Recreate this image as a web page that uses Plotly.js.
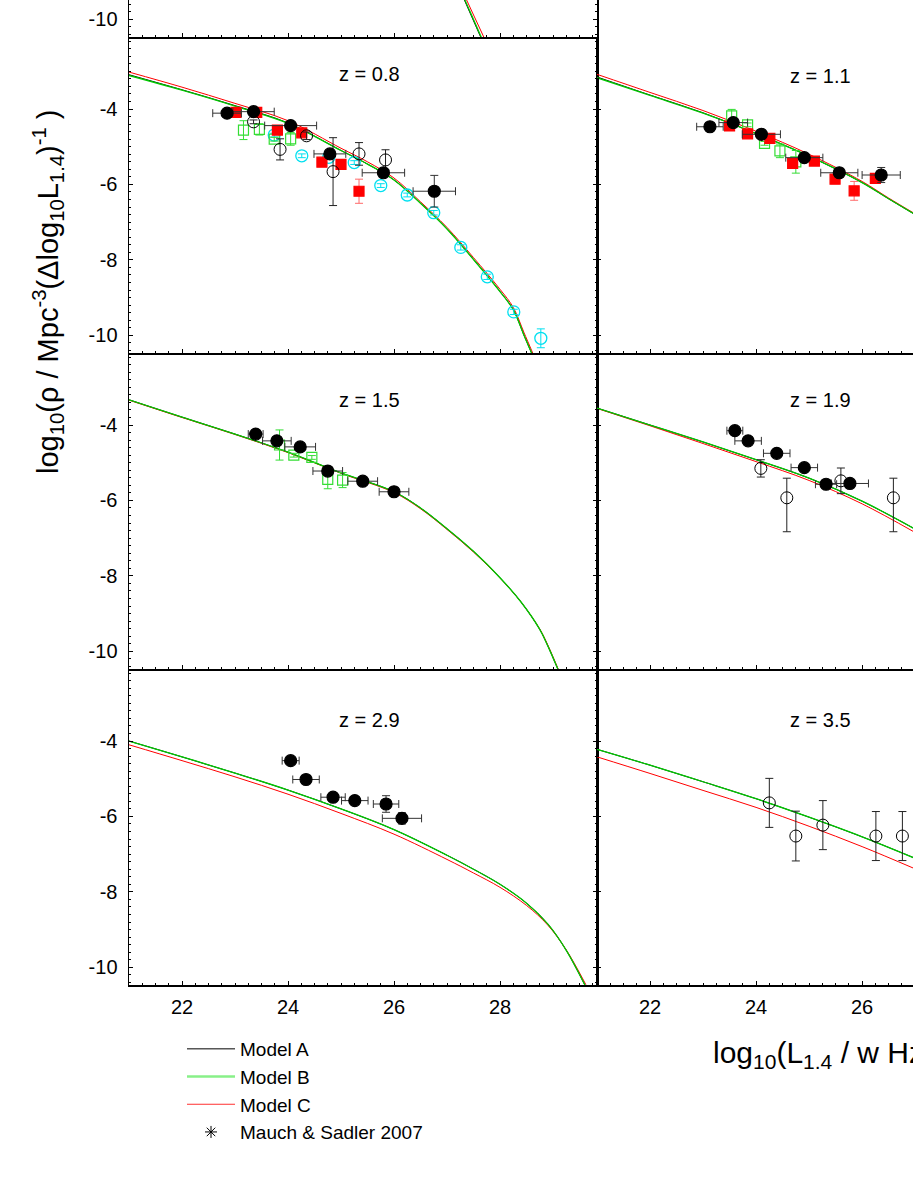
<!DOCTYPE html>
<html><head><meta charset="utf-8">
<script src="https://cdn.plot.ly/plotly-3.0.1.min.js"></script>
<style>html,body{margin:0;padding:0;background:#fff;overflow:hidden}#chart{width:913px;height:1182px}</style>
</head><body><div id="chart"></div>
<script>
// ---------- tick labels / panel labels ----------
const xTickVals = [22, 24, 26, 28];
const xTickText = ['22', '24', '26', '28'];
const yTickVals = [-4, -6, -8, -10];
const yTickText = ['-4', '-6', '-8', '-10'];
const topTickVals = [-10];
const topTickText = ['-10'];
const panelLabels = ['z = 0.8', 'z = 1.1', 'z = 1.5', 'z = 1.9', 'z = 2.9', 'z = 3.5'];
const legendNames = ['Model A', 'Model B', 'Model C', 'Mauch & Sadler 2007'];

// ---------- model curves ----------
// top (cropped) panel: only the bottom end of the curves is visible
const topLogRho = [-9.40, -10.55];
const topA = [27.30, 27.66];
const topB = [27.31, 27.67];
const topC = [27.34, 27.72];

// z = 0.8
const lumZ08 = [21, 22, 23, 24, 25, 25.5, 26, 26.5, 27, 27.5, 28, 28.25, 28.45, 28.62];
const modelA_z08 = [-3.09, -3.49, -3.91, -4.37, -5.10, -5.46, -5.88, -6.50, -7.18, -7.99, -8.84, -9.32, -9.99, -10.55];
const modelB_z08 = [-3.11, -3.50, -3.92, -4.38, -5.10, -5.46, -5.88, -6.50, -7.18, -7.99, -8.84, -9.32, -9.99, -10.55];
const modelC_z08 = [-3.02, -3.42, -3.85, -4.31, -5.04, -5.40, -5.83, -6.46, -7.14, -7.94, -8.78, -9.26, -9.92, -10.48];
// z = 1.1
const lumZ11 = [21, 22, 23, 24, 25, 26, 26.5, 27];
const modelA_z11 = [-3.15, -3.63, -4.10, -4.65, -5.25, -5.95, -6.38, -6.80];
const modelB_z11 = [-3.17, -3.64, -4.11, -4.65, -5.25, -5.95, -6.38, -6.80];
const modelC_z11 = [-3.08, -3.56, -4.04, -4.59, -5.20, -5.92, -6.36, -6.78];
// z = 1.5
const lumZ15 = [21, 22, 23, 24, 25, 26, 26.5, 27, 27.5, 28, 28.4, 28.75, 28.9, 29.1];
const modelA_z15 = [-3.33, -3.79, -4.24, -4.72, -5.27, -5.77, -6.20, -6.75, -7.35, -8.05, -8.70, -9.42, -9.85, -10.50];
const modelB_z15 = [-3.33, -3.79, -4.24, -4.72, -5.27, -5.77, -6.20, -6.75, -7.35, -8.05, -8.70, -9.42, -9.85, -10.50];
const modelC_z15 = [-3.34, -3.80, -4.25, -4.73, -5.28, -5.79, -6.22, -6.77, -7.37, -8.06, -8.70, -9.41, -9.83, -10.48];
// z = 1.9
const lumZ19 = [21, 22, 23, 24, 25, 26, 27];
const modelA_z19 = [-3.55, -4.00, -4.45, -4.92, -5.41, -6.02, -6.76];
const modelB_z19 = [-3.55, -4.00, -4.45, -4.92, -5.41, -6.02, -6.76];
const modelC_z19 = [-3.56, -4.02, -4.49, -4.97, -5.47, -6.09, -6.85];
// z = 2.9
const lumZ29 = [21, 22, 23, 24, 25, 26, 27, 27.5, 28, 28.5, 28.9, 29.25, 29.62];
const modelA_z29 = [-4.00, -4.42, -4.85, -5.30, -5.80, -6.35, -7.03, -7.40, -7.80, -8.30, -8.85, -9.55, -10.52];
const modelB_z29 = [-4.00, -4.42, -4.85, -5.30, -5.80, -6.35, -7.03, -7.40, -7.80, -8.30, -8.85, -9.55, -10.52];
const modelC_z29 = [-4.10, -4.52, -4.95, -5.41, -5.92, -6.47, -7.14, -7.50, -7.88, -8.36, -8.88, -9.54, -10.46];
// z = 3.5
const lumZ35 = [21, 22, 23, 24, 25, 26, 27];
const modelA_z35 = [-4.22, -4.64, -5.08, -5.53, -6.02, -6.54, -7.11];
const modelB_z35 = [-4.22, -4.64, -5.08, -5.53, -6.02, -6.54, -7.11];
const modelC_z35 = [-4.42, -4.86, -5.31, -5.76, -6.26, -6.80, -7.39];

// ---------- observed luminosity functions ----------
// z = 0.8
const z08FilledX = [22.85, 23.35, 24.05, 24.79, 25.80, 26.76];
const z08FilledY = [-4.11, -4.07, -4.44, -5.19, -5.69, -6.18];
const z08FilledXErr = [0.27, 0.39, 0.49, 0.30, 0.40, 0.40];
const z08FilledYErr = [0.05, 0.05, 0.05, 0.08, 0.10, 0.42];
const z08OpenX = [23.35, 23.85, 24.35, 24.85, 25.34, 25.84];
const z08OpenY = [-4.34, -5.07, -4.71, -5.66, -5.19, -5.35];
const z08OpenYErr = [0.05, 0.28, 0.10, 0.90, 0.30, 0.27];
const z08RedX = [23.02, 23.41, 23.80, 24.26, 24.64, 25.00, 25.34];
const z08RedY = [-4.09, -4.09, -4.56, -4.63, -5.41, -5.47, -6.18];
const z08RedYErr = [0.05, 0.05, 0.05, 0.05, 0.08, 0.08, 0.32];
const z08GreenX = [23.16, 23.46, 23.74, 24.05];
const z08GreenY = [-4.56, -4.54, -4.80, -4.79];
const z08GreenYErr = [0.25, 0.15, 0.05, 0.17];
const z08CyanX = [23.74, 24.26, 24.77, 25.25, 25.75, 26.25, 26.75, 27.26, 27.76, 28.26, 28.77];
const z08CyanY = [-4.69, -5.24, -5.28, -5.42, -6.03, -6.28, -6.75, -7.67, -8.45, -9.38, -10.08];
const z08CyanYErr = [0.05, 0.05, 0.05, 0.05, 0.05, 0.05, 0.06, 0.07, 0.07, 0.07, 0.25];
// z = 1.1
const z11FilledX = [23.13, 23.57, 24.10, 24.91, 25.57, 26.36];
const z11FilledY = [-4.47, -4.36, -4.67, -5.29, -5.69, -5.75];
const z11FilledXErr = [0.25, 0.27, 0.36, 0.35, 0.35, 0.36];
const z11FilledYErr = [0.08, 0.05, 0.05, 0.05, 0.12, 0.20];
const z11RedX = [23.50, 23.84, 24.26, 24.69, 25.10, 25.49, 25.85, 26.25];
const z11RedY = [-4.45, -4.66, -4.78, -5.44, -5.38, -5.86, -6.17, -5.84];
const z11RedYErr = [0.05, 0.05, 0.05, 0.05, 0.05, 0.12, 0.25, 0.10];
const z11GreenX = [23.54, 23.84, 24.16, 24.45, 24.75];
const z11GreenY = [-4.18, -4.42, -4.91, -5.11, -5.40];
const z11GreenYErr = [0.17, 0.05, 0.05, 0.18, 0.30];
// z = 1.5
const z15FilledX = [23.39, 23.79, 24.23, 24.75, 25.41, 26.00];
const z15FilledY = [-4.24, -4.42, -4.58, -5.22, -5.49, -5.77];
const z15FilledXErr = [0.14, 0.27, 0.29, 0.28, 0.28, 0.28];
const z15FilledYErr = [0.05, 0.05, 0.05, 0.05, 0.05, 0.12];
const z15GreenX = [23.84, 24.11, 24.45, 24.75, 25.03];
const z15GreenY = [-4.53, -4.80, -4.86, -5.44, -5.46];
const z15GreenYErr = [0.40, 0.05, 0.05, 0.25, 0.20];
// z = 1.9
const z19FilledX = [23.60, 23.85, 24.39, 24.91, 25.32, 25.77];
const z19FilledY = [-4.15, -4.42, -4.75, -5.13, -5.57, -5.55];
const z19FilledXErr = [0.15, 0.25, 0.25, 0.25, 0.20, 0.35];
const z19OpenX = [24.09, 24.58, 25.60, 26.59];
const z19OpenY = [-5.15, -5.93, -5.48, -5.93];
const z19OpenYErrPlus = [0.23, 0.52, 0.34, 0.52];
const z19OpenYErrMinus = [0.23, 0.90, 0.34, 0.90];
// z = 2.9
const z29FilledX = [24.05, 24.34, 24.85, 25.26, 25.85, 26.15];
const z29FilledY = [-4.52, -5.02, -5.49, -5.58, -5.67, -6.05];
const z29FilledXErr = [0.16, 0.25, 0.23, 0.25, 0.24, 0.37];
const z29FilledYErr = [0.05, 0.05, 0.05, 0.05, 0.22, 0.15];
// z = 3.5
const z35OpenX = [24.25, 24.75, 25.26, 26.26, 26.76];
const z35OpenY = [-5.64, -6.52, -6.23, -6.52, -6.52];
const z35OpenYErr = [0.65, 0.66, 0.65, 0.65, 0.65];

// ---------- styling / geometry ----------
const FONT = 'Liberation Sans, Arial, Helvetica, sans-serif';
const W = 913, H = 1182, ML = 129, MB = 197;
const PW = W - ML, PH = H - MB;
const fx = px => (px - ML) / PW;
const fy = py => (PH - py) / PH;
const colDom = [[0, fx(597)], [fx(597), 1]];
const rowDom = [[fy(37), 1], [fy(353), fy(37)], [fy(669), fy(353)], [0, fy(669)]];
const fullY = [-10.47, -2.09];
const topY = [-10.47, -9.49];
const xLeft = [21, 29.83];
const xRight = [21, 26.96];

const COL_A = '#000000', COL_B = '#00c800', COL_C = '#ff0000';
const COL_CYAN = '#00e0f0', COL_LG = '#33dd33', COL_RED = '#ff0000';

const traces = [];
function curves(ax, xs, a, b, c, yIsX) {
  const mk = (vals, col, w) => {
    const t = {type: 'scatter', mode: 'lines', line: {color: col, width: w, shape: 'spline', smoothing: 1},
      showlegend: false, xaxis: 'x' + ax, yaxis: 'y' + ax, hoverinfo: 'skip'};
    if (yIsX) { t.x = vals; t.y = xs; } else { t.x = xs; t.y = vals; }
    return t;
  };
  traces.push(mk(a, COL_A, 1));
  traces.push(mk(c, COL_C, 1));
  traces.push(mk(b, COL_B, 1.3));
}
function pts(ax, x, y, opt) {
  const t = {type: 'scatter', mode: 'markers', x: x, y: y, showlegend: false, hoverinfo: 'skip',
    xaxis: 'x' + ax, yaxis: 'y' + ax, cliponaxis: true,
    marker: {symbol: opt.symbol, size: opt.size, color: opt.color, line: {color: opt.lineColor || opt.color, width: opt.lw || 1.2}}};
  if (opt.ey || opt.eyp) {
    t.error_y = {type: 'data', symmetric: !opt.eyp, array: opt.ey || opt.eyp, color: opt.ecol, thickness: 1, width: 4};
    if (opt.eyp) t.error_y.arrayminus = opt.eym;
  }
  if (opt.ex) t.error_x = {type: 'data', array: opt.ex, color: opt.ecol, thickness: 1, width: 4};
  traces.push(t);
}
const filled = (ex, ey) => ({symbol: 'circle', size: 12, color: '#000', ecol: '#333', ex: ex, ey: ey});
const openB = (ey) => ({symbol: 'circle-open', size: 12, color: '#000', lw: 1, ecol: '#222', ey: ey});

// top cropped panel (axis 1 left, 2 right)
curves(1, topLogRho, topA, topB, topC, true);

// z = 0.8 (axis 3)
curves(3, lumZ08, modelA_z08, modelB_z08, modelC_z08);
pts(3, z08CyanX, z08CyanY, {symbol: 'circle-open', size: 12, color: COL_CYAN, lw: 1.3, ecol: COL_CYAN, ey: z08CyanYErr});
pts(3, z08GreenX, z08GreenY, {symbol: 'square-open', size: 10, color: COL_LG, lw: 1.2, ecol: COL_LG, ey: z08GreenYErr});
pts(3, z08RedX, z08RedY, {symbol: 'square', size: 10, color: COL_RED, ecol: '#ff6a6a', ey: z08RedYErr});
pts(3, z08OpenX, z08OpenY, openB(z08OpenYErr));
pts(3, z08FilledX, z08FilledY, filled(z08FilledXErr, z08FilledYErr));

// z = 1.1 (axis 4)
curves(4, lumZ11, modelA_z11, modelB_z11, modelC_z11);
pts(4, z11GreenX, z11GreenY, {symbol: 'square-open', size: 10, color: COL_LG, lw: 1.2, ecol: COL_LG, ey: z11GreenYErr});
pts(4, z11RedX, z11RedY, {symbol: 'square', size: 10, color: COL_RED, ecol: '#ff6a6a', ey: z11RedYErr});
pts(4, z11FilledX, z11FilledY, filled(z11FilledXErr, z11FilledYErr));

// z = 1.5 (axis 5)
curves(5, lumZ15, modelA_z15, modelB_z15, modelC_z15);
pts(5, z15GreenX, z15GreenY, {symbol: 'square-open', size: 10, color: COL_LG, lw: 1.2, ecol: COL_LG, ey: z15GreenYErr});
pts(5, z15FilledX, z15FilledY, filled(z15FilledXErr, z15FilledYErr));

// z = 1.9 (axis 6)
curves(6, lumZ19, modelA_z19, modelB_z19, modelC_z19);
pts(6, z19OpenX, z19OpenY, {symbol: 'circle-open', size: 12, color: '#000', lw: 1, ecol: '#222', eyp: z19OpenYErrPlus, eym: z19OpenYErrMinus});
pts(6, z19FilledX, z19FilledY, filled(z19FilledXErr, null));

// z = 2.9 (axis 7)
curves(7, lumZ29, modelA_z29, modelB_z29, modelC_z29);
pts(7, z29FilledX, z29FilledY, filled(z29FilledXErr, z29FilledYErr));

// z = 3.5 (axis 8)
curves(8, lumZ35, modelA_z35, modelB_z35, modelC_z35);
pts(8, z35OpenX, z35OpenY, openB(z35OpenYErr));

// legend-only entries
const legStyles = [
  {mode: 'lines', line: {color: '#000', width: 1}},
  {mode: 'lines', line: {color: '#88f088', width: 2.5}},
  {mode: 'lines', line: {color: '#ff3030', width: 1}},
  {mode: 'markers', marker: {symbol: 'asterisk-open', size: 10, color: '#000', line: {color: '#000', width: 1}}}
];
legendNames.forEach((n, i) => {
  traces.push(Object.assign({type: 'scatter', x: [null], y: [null], name: n, showlegend: true,
    xaxis: 'x7', yaxis: 'y7', hoverinfo: 'skip'}, legStyles[i]));
});

// ---------- axes ----------
const layout = {
  width: W, height: H, paper_bgcolor: '#fff', plot_bgcolor: 'rgba(0,0,0,0)',
  margin: {l: ML, r: 0, t: 0, b: MB, pad: 0},
  font: {family: FONT, color: '#000', size: 20},
  showlegend: true,
  legend: {x: fx(182), y: fy(1030), xanchor: 'left', yanchor: 'top', font: {family: FONT, size: 19, color: '#000'},
    bgcolor: 'rgba(0,0,0,0)', borderwidth: 0, itemwidth: 48, tracegroupgap: 0, traceorder: 'normal'},
  annotations: [],
};
for (let r = 0; r < 4; r++) {
  for (let c = 0; c < 2; c++) {
    const n = r * 2 + c + 1;
    const xa = {
      domain: colDom[c], range: c === 0 ? xLeft : xRight, anchor: 'y' + n,
      showline: true, linecolor: '#000', linewidth: 1.5, mirror: false,
      ticks: 'inside', ticklen: 4, tickwidth: 1, tickcolor: '#000',
      tickmode: 'array', tickvals: xTickVals, ticktext: xTickText, showticklabels: r === 3,
      tickfont: {family: FONT, size: 20, color: '#000'}, ticklabelstandoff: 3,
      minor: {dtick: 0.25, ticks: 'inside', ticklen: 2, tickwidth: 1, tickcolor: '#000', showgrid: false},
      showgrid: false, zeroline: false, fixedrange: true
    };
    const ya = {
      domain: rowDom[r], range: r === 0 ? topY : fullY, anchor: 'x' + n,
      showline: true, linecolor: '#000', linewidth: 1.5, mirror: c === 0 ? 'ticks' : false,
      ticks: 'inside', ticklen: 4, tickwidth: 1, tickcolor: '#000',
      tickmode: 'array', tickvals: r === 0 ? topTickVals : yTickVals, ticktext: r === 0 ? topTickText : yTickText,
      showticklabels: c === 0, tickfont: {family: FONT, size: 20, color: '#000'}, ticklabelstandoff: 6,
      minor: {dtick: 0.2, ticks: 'inside', ticklen: 2, tickwidth: 1, tickcolor: '#000', showgrid: false},
      showgrid: false, zeroline: false, fixedrange: true
    };
    layout[n === 1 ? 'xaxis' : 'xaxis' + n] = xa;
    layout[n === 1 ? 'yaxis' : 'yaxis' + n] = ya;
  }
}

// panel labels
const labelPos = [[369, 74], [820, 76], [369, 400], [820, 400], [369, 720], [820, 720]];
panelLabels.forEach((t, i) => {
  layout.annotations.push({text: t, xref: 'paper', yref: 'paper', x: fx(labelPos[i][0]), y: fy(labelPos[i][1]),
    xanchor: 'center', yanchor: 'middle', showarrow: false, font: {family: FONT, size: 20, color: '#000'}});
});
// axis titles
layout.annotations.push({text: 'log<sub>10</sub>(ρ / Mpc<sup>-3</sup>(Δlog<sub>10</sub>L<sub>1.4</sub>)<sup>-1</sup> )',
  xref: 'paper', yref: 'paper', x: fx(48), y: fy(292), textangle: -90, xanchor: 'center', yanchor: 'middle',
  showarrow: false, font: {family: FONT, size: 29, color: '#000'}});
layout.annotations.push({text: 'log<sub>10</sub>(L<sub>1.4</sub> / w Hz<sup>-1</sup>)',
  xref: 'paper', yref: 'paper', x: fx(711), y: fy(1052), xanchor: 'left', yanchor: 'middle',
  showarrow: false, font: {family: FONT, size: 30, color: '#000'}});

Plotly.newPlot('chart', traces, layout, {staticPlot: true, displayModeBar: false});
</script></body></html>
